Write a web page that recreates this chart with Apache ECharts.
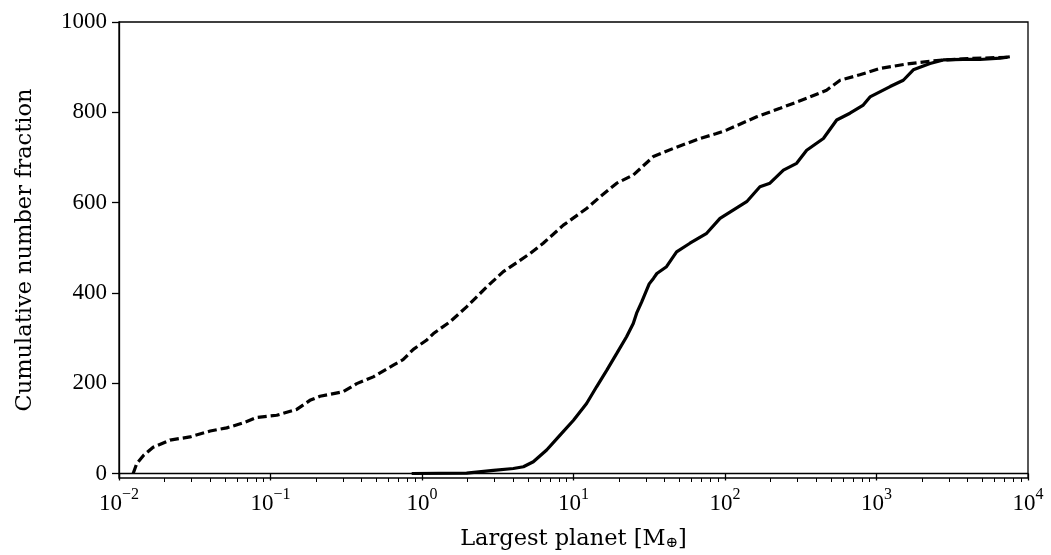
<!DOCTYPE html>
<html>
<head>
<meta charset="utf-8">
<style>
	html, body { margin: 0; padding: 0; background: #fff; }
	#chart { width: 1051px; height: 555px; }
</style>
<script src="https://cdn.jsdelivr.net/npm/echarts@6/dist/echarts.min.js"></script>
</head>
<body>
<div id="chart"></div>
<script>
// dashed curve (all systems)
var dashedX = [0.0124, 0.0131, 0.0145, 0.0168, 0.0217, 0.0294, 0.040, 0.0514, 0.066, 0.081,
	0.110, 0.149, 0.182, 0.212, 0.302, 0.371, 0.477, 0.647, 0.75, 0.877,
	1.07, 1.19, 1.53, 1.97, 2.67, 3.44, 5.16, 6.31, 8.57, 12.2,
	15.0, 19.3, 24.8, 33.7, 45.6, 68.4, 88, 103, 162, 231,
	346, 468, 575, 776, 1047, 1585, 2371, 2884, 4000, 7585];
var dashedY = [0, 22, 40, 58, 74, 81, 94, 101, 112, 124,
	129, 142, 162, 171, 181, 199, 214, 240, 252, 275,
	295, 310, 336, 369, 413, 447, 487, 510, 550, 587,
	613, 643, 661, 702, 720, 742, 753, 761, 790, 809,
	831, 849, 871, 883, 897, 907, 914, 916, 919, 922];

// solid curve (largest planet)
var solidX = [0.855, 1.97, 2.96, 4.01, 4.67, 5.43, 6.65, 8.15, 10, 12.2,
	14.2, 16.6, 19.3, 22.4, 24.8, 26.1, 28.2, 31.6, 33.7, 35.5,
	41.1, 47.9, 58.7, 75.7, 92.7, 139, 170, 198, 243, 297,
	346, 446, 546, 668, 818, 906, 1230, 1503, 1750, 2254,
	2761, 3741, 4819, 6531, 7586];
var solidY = [0, 1, 7, 11, 15, 26, 52, 85, 118, 155,
	192, 229, 266, 303, 332, 355, 380, 420, 432, 443,
	458, 491, 510, 532, 565, 602, 635, 643, 672, 687,
	716, 742, 783, 798, 816, 834, 857, 871, 894, 908,
	916, 917, 917, 920, 923];

var xMajor = [0.01, 0.1, 1, 10, 100, 1000, 10000];
var yTicks = [0, 200, 400, 600, 800, 1000];

var xMinor = [];
for (var e = -2; e < 4; e++) {
	for (var m = 2; m <= 9; m++) {
		xMinor.push(m * Math.pow(10, e));
	}
}

function pairs(xs, ys) {
	return xs.map(function (x, i) { return [x, ys[i]]; });
}

var font = 'Liberation Serif';
var nameFont = 'DejaVu Serif';
var chart = echarts.init(document.getElementById('chart'));
var option = {
	backgroundColor: '#fff',
	animation: false,
	grid: {
		left: 119, right: 23, top: 22, bottom: 77,
		show: true, borderColor: '#000', borderWidth: 1.3,
		containLabel: false,
		outerBoundsMode: 'none'
	},
	xAxis: [
		{
			type: 'log',
			logBase: 10,
			min: 0.01,
			max: 10000,
			name: 'Largest planet [M{sub|⊕}]',
			nameLocation: 'middle',
			nameGap: 50,
			nameTextStyle: {
				fontFamily: nameFont, fontSize: 22.5, color: '#000',
				rich: {
					sub: { fontFamily: nameFont, fontSize: 15, verticalAlign: 'bottom', padding: [8, 0, 0, 0] }
				}
			},
			axisLine: { show: true, lineStyle: { color: '#000', width: 1.3 } },
			splitLine: { show: false },
			axisTick: {
				show: true, inside: false, length: 7,
				customValues: xMajor,
				lineStyle: { color: '#000', width: 1.3 }
			},
			minorTick: { show: false },
			axisLabel: {
				customValues: xMajor,
				margin: 9,
				color: '#000',
				fontFamily: font,
				formatter: function (v) {
					var ex = Math.round(Math.log10(v));
					var s = ex < 0 ? '\u2212' + (-ex) : '' + ex;
					return '{b|10}{s|' + s + '}';
				},
				rich: {
					b: { fontFamily: font, fontSize: 23, lineHeight: 28, verticalAlign: 'bottom', color: '#000' },
					s: { fontFamily: font, fontSize: 16, lineHeight: 16, verticalAlign: 'top', color: '#000' }
				}
			}
		},
		{
			type: 'log',
			logBase: 10,
			min: 0.01,
			max: 10000,
			position: 'bottom',
			axisLine: { show: false },
			splitLine: { show: false },
			axisLabel: { show: false },
			axisTick: {
				show: true, inside: false, length: 4,
				customValues: xMinor,
				lineStyle: { color: '#000', width: 1 }
			}
		}
	],
	yAxis: {
		type: 'value',
		min: -10,
		max: 1000,
		name: 'Cumulative number fraction',
		nameLocation: 'middle',
		nameGap: 82,
		nameRotate: 90,
		nameTextStyle: { fontFamily: nameFont, fontSize: 22.5, color: '#000' },
		axisLine: { show: true, lineStyle: { color: '#000', width: 1.3 } },
		splitLine: { show: false },
		axisTick: {
			show: true, inside: false, length: 7,
			customValues: yTicks,
			lineStyle: { color: '#000', width: 1.3 }
		},
		axisLabel: {
			customValues: yTicks,
			margin: 12,
			color: '#000',
			fontFamily: font,
			fontSize: 23,
			formatter: function (v) { return String(v); }
		}
	},
	series: [
		{
			name: 'all',
			type: 'line',
			xAxisIndex: 0,
			symbol: 'none',
			smooth: false,
			lineStyle: { color: '#000', width: 3.2, type: [9, 4] },
			data: pairs(dashedX, dashedY)
		},
		{
			name: 'largest',
			type: 'line',
			xAxisIndex: 0,
			symbol: 'none',
			smooth: false,
			lineStyle: { color: '#000', width: 3.2 },
			data: pairs(solidX, solidY)
		}
	]
};
chart.setOption(option);
</script>
</body>
</html>
